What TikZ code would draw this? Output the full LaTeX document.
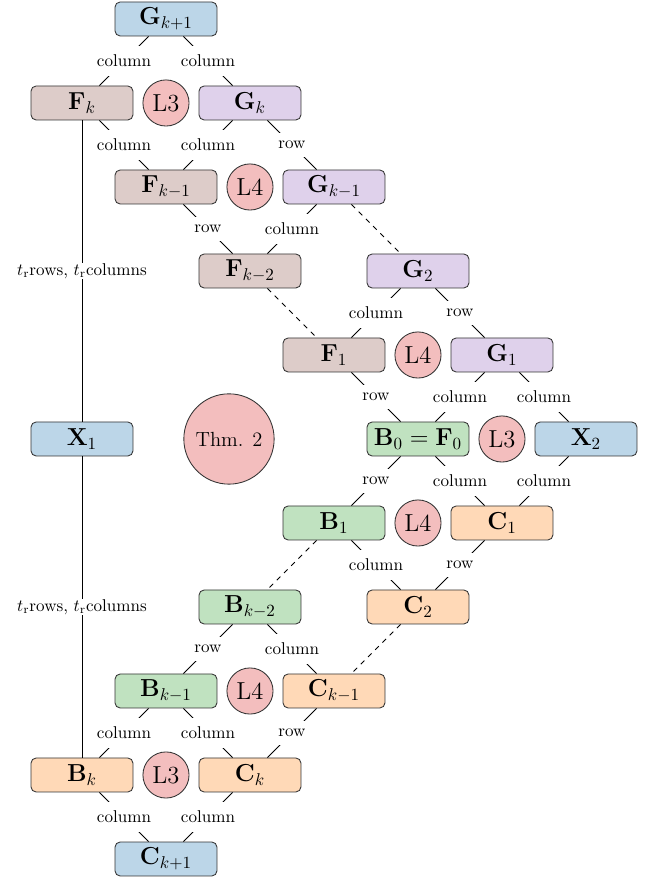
\documentclass[tikz,border=0pt]{standalone}
\usepackage{amsmath}
\usetikzlibrary{positioning}
\definecolor{tabblue}{HTML}{1F77B4}
\definecolor{taborange}{HTML}{FF7F0E}
\definecolor{tabgreen}{HTML}{2CA02C}
\definecolor{tabred}{HTML}{D62728}
\definecolor{tabpurple}{HTML}{9467BD}
\definecolor{tabbrown}{HTML}{8C564B}

\begin{document}
\begin{tikzpicture}[x=1.73cm,y=-1.73cm,line width=0.5pt,
  mat/.style={draw=black!80,rounded corners=3pt,minimum width=2.1cm,minimum height=0.7cm,inner sep=1pt,font=\Large},
  lem/.style={circle,draw=black!80,fill=tabred!30,minimum size=0.95cm,inner sep=0pt,font=\Large},
  lbl/.style={fill=white,inner xsep=1pt,inner ysep=5pt,midway},
  vlbl/.style={fill=white,inner sep=0.5pt,midway}]
  \useasboundingbox (-0.976,-0.226) rectangle (6.714,10.274);

  \node[mat,fill=tabblue!30] (Gnext) at (1,0) {$\mathbf{G}_{k+1}$};
  \node[mat,fill=tabbrown!30] (Fk) at (0,1) {$\mathbf{F}_{k}$};
  \node[lem] (lemA) at (1,1) {L3};
  \node[mat,fill=tabpurple!30] (Gk) at (2,1) {$\mathbf{G}_{k}$};
  \node[mat,fill=tabbrown!30] (Fkm1) at (1,2) {$\mathbf{F}_{k-1}$};
  \node[lem] (lemB) at (2,2) {L4};
  \node[mat,fill=tabpurple!30] (Gkm1) at (3,2) {$\mathbf{G}_{k-1}$};
  \node[mat,fill=tabbrown!30] (Fkm2) at (2,3) {$\mathbf{F}_{k-2}$};
  \node[mat,fill=tabpurple!30] (Gtwo) at (4,3) {$\mathbf{G}_{2}$};
  \node[mat,fill=tabbrown!30] (Fone) at (3,4) {$\mathbf{F}_{1}$};
  \node[lem] (lemC) at (4,4) {L4};
  \node[mat,fill=tabpurple!30] (Gone) at (5,4) {$\mathbf{G}_{1}$};
  \node[mat,fill=tabblue!30] (Xone) at (0,5) {$\mathbf{X}_{1}$};
  \node[lem,minimum size=1.86cm,font=\large] (thm) at (1.75,5) {Thm. 2};
  \node[mat,fill=tabgreen!30] (Bzero) at (4,5) {$\mathbf{B}_{0}=\mathbf{F}_{0}$};
  \node[lem] (lemD) at (5,5) {L3};
  \node[mat,fill=tabblue!30] (Xtwo) at (6,5) {$\mathbf{X}_{2}$};
  \node[mat,fill=tabgreen!30] (Bone) at (3,6) {$\mathbf{B}_{1}$};
  \node[lem] (lemE) at (4,6) {L4};
  \node[mat,fill=taborange!30] (Cone) at (5,6) {$\mathbf{C}_{1}$};
  \node[mat,fill=tabgreen!30] (Bkm2) at (2,7) {$\mathbf{B}_{k-2}$};
  \node[mat,fill=taborange!30] (Ctwo) at (4,7) {$\mathbf{C}_{2}$};
  \node[mat,fill=tabgreen!30] (Bkm1) at (1,8) {$\mathbf{B}_{k-1}$};
  \node[lem] (lemF) at (2,8) {L4};
  \node[mat,fill=taborange!30] (Ckm1) at (3,8) {$\mathbf{C}_{k-1}$};
  \node[mat,fill=taborange!30] (Bk) at (0,9) {$\mathbf{B}_{k}$};
  \node[lem] (lemG) at (1,9) {L3};
  \node[mat,fill=taborange!30] (Ck) at (2,9) {$\mathbf{C}_{k}$};
  \node[mat,fill=tabblue!30] (Cnext) at (1,10) {$\mathbf{C}_{k+1}$};

  \draw (Gnext) -- node[lbl]{column} (Fk);
  \draw (Gnext) -- node[lbl]{column} (Gk);
  \draw (Fk) -- node[lbl]{column} (Fkm1);
  \draw (Gk) -- node[lbl]{column} (Fkm1);
  \draw (Gk) -- node[lbl]{row} (Gkm1);
  \draw (Fkm1) -- node[lbl]{row} (Fkm2);
  \draw (Gkm1) -- node[lbl]{column} (Fkm2);
  \draw[dashed] (Gkm1) -- (Gtwo);
  \draw[dashed] (Fkm2) -- (Fone);
  \draw (Gtwo) -- node[lbl]{column} (Fone);
  \draw (Gtwo) -- node[lbl]{row} (Gone);
  \draw (Fone) -- node[lbl]{row} (Bzero);
  \draw (Gone) -- node[lbl]{column} (Bzero);
  \draw (Gone) -- node[lbl]{column} (Xtwo);
  \draw (Bzero) -- node[lbl]{row} (Bone);
  \draw (Bzero) -- node[lbl]{column} (Cone);
  \draw (Xtwo) -- node[lbl]{column} (Cone);
  \draw (Bone) -- node[lbl]{column} (Ctwo);
  \draw (Cone) -- node[lbl]{row} (Ctwo);
  \draw[dashed] (Bone) -- (Bkm2);
  \draw[dashed] (Ctwo) -- (Ckm1);
  \draw (Bkm2) -- node[lbl]{row} (Bkm1);
  \draw (Bkm2) -- node[lbl]{column} (Ckm1);
  \draw (Bkm1) -- node[lbl]{column} (Bk);
  \draw (Bkm1) -- node[lbl]{column} (Ck);
  \draw (Ckm1) -- node[lbl]{row} (Ck);
  \draw (Bk) -- node[lbl]{column} (Cnext);
  \draw (Ck) -- node[lbl]{column} (Cnext);
  \draw (Fk) -- node[vlbl]{$t_{\mathrm{r}}$rows, $t_{\mathrm{r}}$columns} (Xone);
  \draw (Xone) -- node[vlbl]{$t_{\mathrm{r}}$rows, $t_{\mathrm{r}}$columns} (Bk);
\end{tikzpicture}
\end{document}
